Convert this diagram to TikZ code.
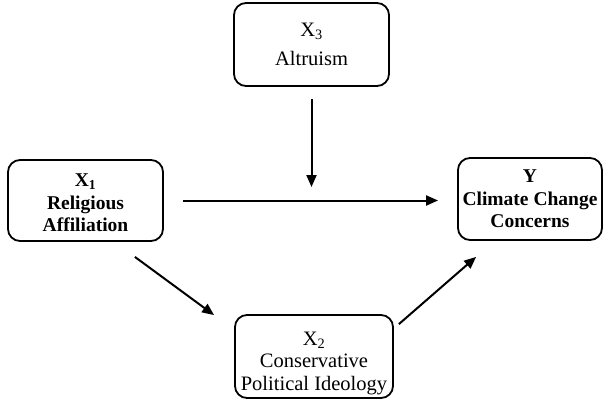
\documentclass[tikz,border=0pt]{standalone}
\usepackage{fontspec}
\setmainfont{Liberation Serif}
\usepackage{tikz}
\usetikzlibrary{arrows.meta,calc,positioning}
\definecolor{inkmain}{HTML}{000000}
\tikzset{
  varbox/.style={draw=inkmain,rounded corners=12pt,line width=1.8pt,align=center,
    inner sep=0pt,font=\fontsize{20.5}{22.5}\selectfont},
  keybox/.style={varbox,font=\fontsize{19.5}{22.5}\selectfont\bfseries},
  link/.style={->,inkmain,line width=2pt}
}

\begin{document}
\begin{tikzpicture}[x=1pt,y=-1pt,>={Triangle[length=12pt,width=10pt]}]
  \useasboundingbox (0,0) rectangle (608,399);
  % variables
  \node[keybox,minimum width=155pt,minimum height=81pt] (x1) at (85.5,200.5)
    {\rule{0pt}{17.9pt}X\textsubscript{1}\\Religious\\Affiliation};
  \node[varbox,minimum width=155pt,minimum height=83pt] (x3) at (311.5,44.5)
    {X\textsubscript{3}\\[6pt]Altruism};
  \node[keybox,minimum width=144pt,minimum height=82pt] (y) at (530,199)
    {Y\\Climate Change\\Concerns};
  \node[varbox,minimum width=158pt,minimum height=83pt] (x2) at (314,356.5)
    {\rule{0pt}{26.6pt}X\textsubscript{2}\\Conservative\\Political Ideology};
  % paths
  \coordinate (meet) at (311.5,187);
  \draw[link,shorten <=19pt,shorten >=19pt] (x1.east) -- (x1.east -| y.west);
  \draw[link,shorten <=12pt] (x3.south) -- (meet);
  \draw[link] ([xshift=-29pt,yshift=-15pt]x1.south east) -- ([xshift=-20pt,yshift=-1pt]x2.north west);
  \draw[link] ([xshift=5pt,yshift=-10pt]x2.north east) -- ([xshift=19pt,yshift=-16pt]y.south west);
\end{tikzpicture}
\end{document}
